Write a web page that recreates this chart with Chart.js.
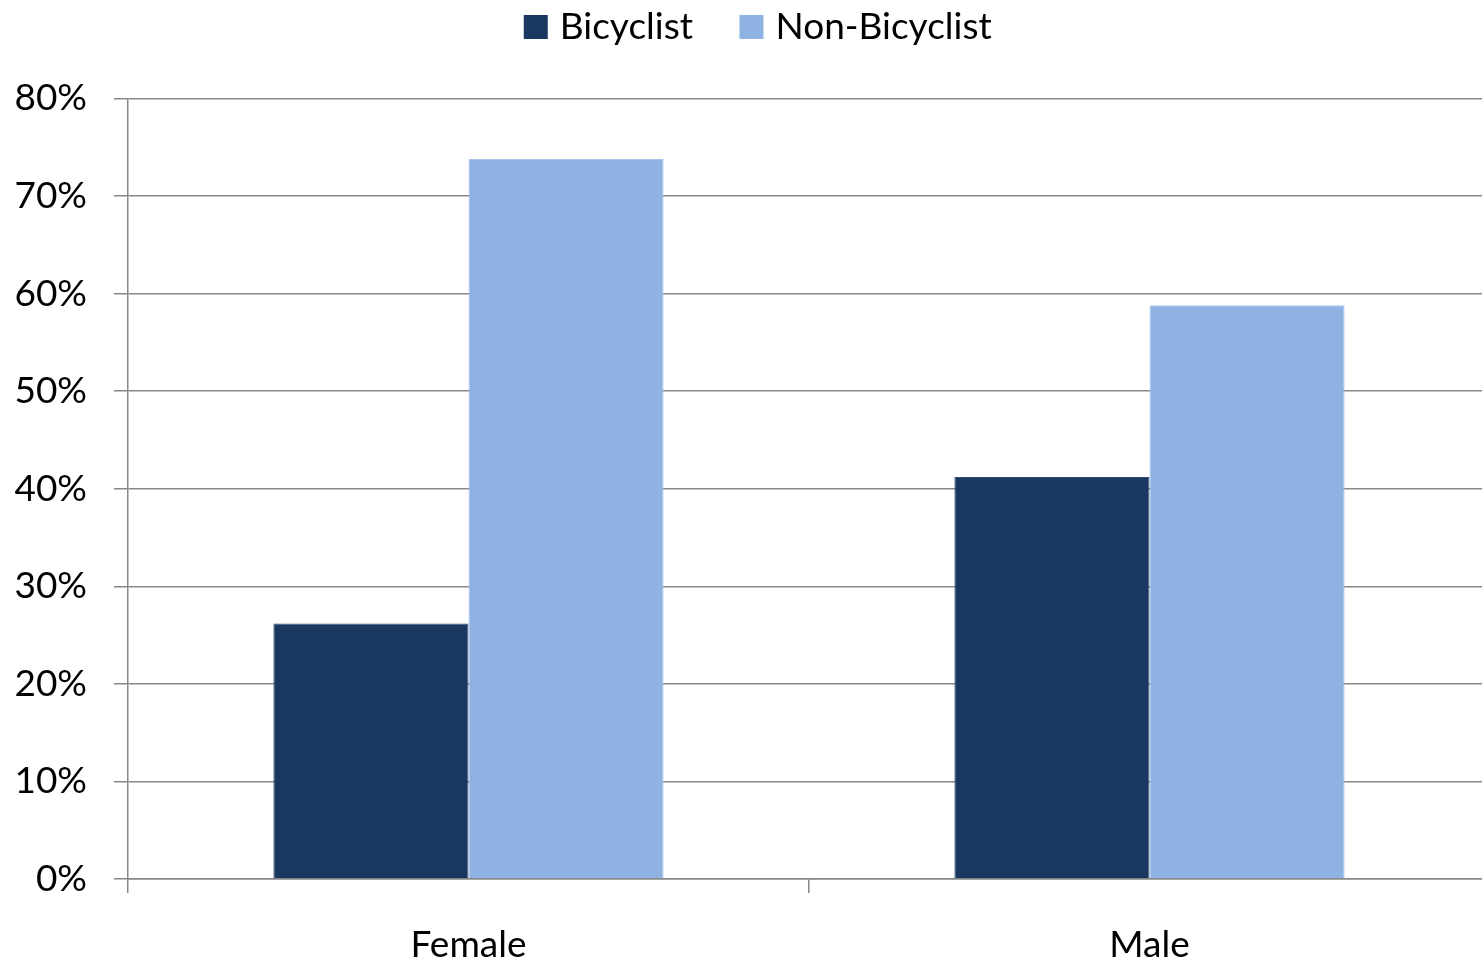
<!DOCTYPE html>
<html>
<head>
<meta charset="utf-8">
<script src="https://cdn.jsdelivr.net/npm/chart.js@4/dist/chart.umd.min.js"></script>
<style>
html,body{margin:0;padding:0;background:#fff;overflow:hidden;}
#wrap{width:1482px;height:964px;overflow:hidden;}
</style>
</head>
<body>
<div id="wrap"><canvas id="c" width="1490" height="964"></canvas></div>
<script>
const categories = ["Female", "Male"];
const bicyclist = [26.2, 41.2];
const nonBicyclist = [73.8, 58.8];
const yTicks = [0, 10, 20, 30, 40, 50, 60, 70, 80];

const FONT = "Lato, 'Open Sans', sans-serif";
const FS = 37;
const GRID = "#888888";

const legendSizer = {
  id: 'legendSizer',
  beforeLayout(chart) {
    const lg = chart.legend;
    if (lg && !lg._patched) {
      const orig = lg.fit.bind(lg);
      lg.fit = function () { orig(); this.height = 143; };
      lg._patched = true;
    }
  },
  afterLayout(chart) {
    const lg = chart.legend;
    if (lg) { lg.left += 16; lg.right += 16; }
  }
};

new Chart(document.getElementById('c'), {
  type: 'bar',
  data: {
    labels: categories,
    datasets: [
      { label: "Bicyclist", data: bicyclist, backgroundColor: "#1A375F", borderColor: "#2b4a74", borderWidth: 1 },
      { label: "Non-Bicyclist", data: nonBicyclist, backgroundColor: "#8EB3E2", borderColor: "#a9c6ec", borderWidth: 1 }
    ]
  },
  plugins: [legendSizer],
  options: {
    responsive: false,
    animation: false,
    devicePixelRatio: 1,
    layout: { padding: { left: 0, right: 0, top: -44.5, bottom: 0 } },
    datasets: { bar: { categoryPercentage: 0.573, barPercentage: 1.0 } },
    plugins: {
      legend: {
        position: 'top',
        labels: {
          font: { family: FONT, size: FS },
          color: "#000",
          boxWidth: 11, boxHeight: 11,
          padding: 53,
          generateLabels: (chart) => chart.data.datasets.map((ds, i) => ({
            text: ds.label,
            fillStyle: ds.backgroundColor,
            strokeStyle: ds.backgroundColor,
            lineWidth: 13,
            lineJoin: 'miter',
            hidden: false,
            datasetIndex: i,
            fontColor: "#000"
          }))
        }
      },
      tooltip: { enabled: false }
    },
    scales: {
      x: {
        offset: true,
        grid: { display: true, drawOnChartArea: false, offset: true, color: GRID, lineWidth: 1.5, tickLength: 14 },
        border: { display: true, color: GRID, width: 1.5 },
        ticks: { font: { family: FONT, size: FS }, color: "#000", padding: 30 },
        afterFit: (s) => { s.height = 85; }
      },
      y: {
        min: 0, max: 80,
        afterBuildTicks: (s) => { s.ticks = yTicks.map(v => ({ value: v })); },
        grid: { color: GRID, lineWidth: 1.5, tickLength: 14 },
        border: { display: true, color: GRID, width: 1.5 },
        ticks: {
          font: { family: FONT, size: FS }, color: "#000", padding: 27,
          callback: (v) => v + "%"
        },
        afterFit: (s) => { s.width = 128; }
      }
    }
  }
});
</script>
</body>
</html>
